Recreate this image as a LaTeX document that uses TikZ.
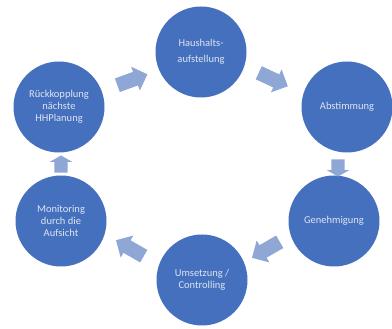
\documentclass[tikz,border=0pt]{standalone}
\usepackage{fontspec}
\setmainfont{Carlito}
\usetikzlibrary{shapes.arrows}
\definecolor{circblue}{RGB}{68,112,190}
\definecolor{arrblue}{RGB}{143,167,213}
\definecolor{txtcol}{RGB}{222,228,240}
\tikzset{
  stage/.style={circle, fill=circblue, minimum size=91pt, inner sep=0pt,
    text=txtcol, font=\fontsize{10.5}{12}\selectfont, align=center},
  bigarrow/.style={single arrow, fill=arrblue, inner sep=7pt,
    single arrow head extend=5.5pt, minimum height=32pt, single arrow tip angle=90},
  smallarrow/.style={single arrow, fill=arrblue, inner sep=6.5pt,
    single arrow head extend=4.5pt, minimum height=11pt, single arrow tip angle=120}
}
\begin{document}
\begin{tikzpicture}[x=1pt,y=-1pt]
\fill[white] (0,0) rectangle (392,329);
\useasboundingbox (0,0) rectangle (392,329);
\node[stage] (H) at (201,52) {Haushalts-\\[4pt]aufstellung};
\node[stage] (A) at (347,107) {Abstimmung};
\node[stage] (G) at (334,221) {Genehmigung};
\node[stage] (U) at (202,280) {Umsetzung /\\Controlling};
\node[stage] (M) at (61,221) {Monitoring\\durch die\\Aufsicht};
\node[stage] (R) at (59,107) {Rückkopplung\\nächste\\HHPlanung};
\node[bigarrow, rotate=20] (a1) at (129,81) {};
\node[bigarrow, rotate=-25] (a2) at (270,78) {};
\node[smallarrow, rotate=-90] (a3) at (338,166) {};
\node[bigarrow, rotate=210] (a4) at (269,248) {};
\node[bigarrow, rotate=150] (a5) at (133,250) {};
\node[smallarrow, rotate=90] (a6) at (61,166) {};
\end{tikzpicture}
\end{document}
